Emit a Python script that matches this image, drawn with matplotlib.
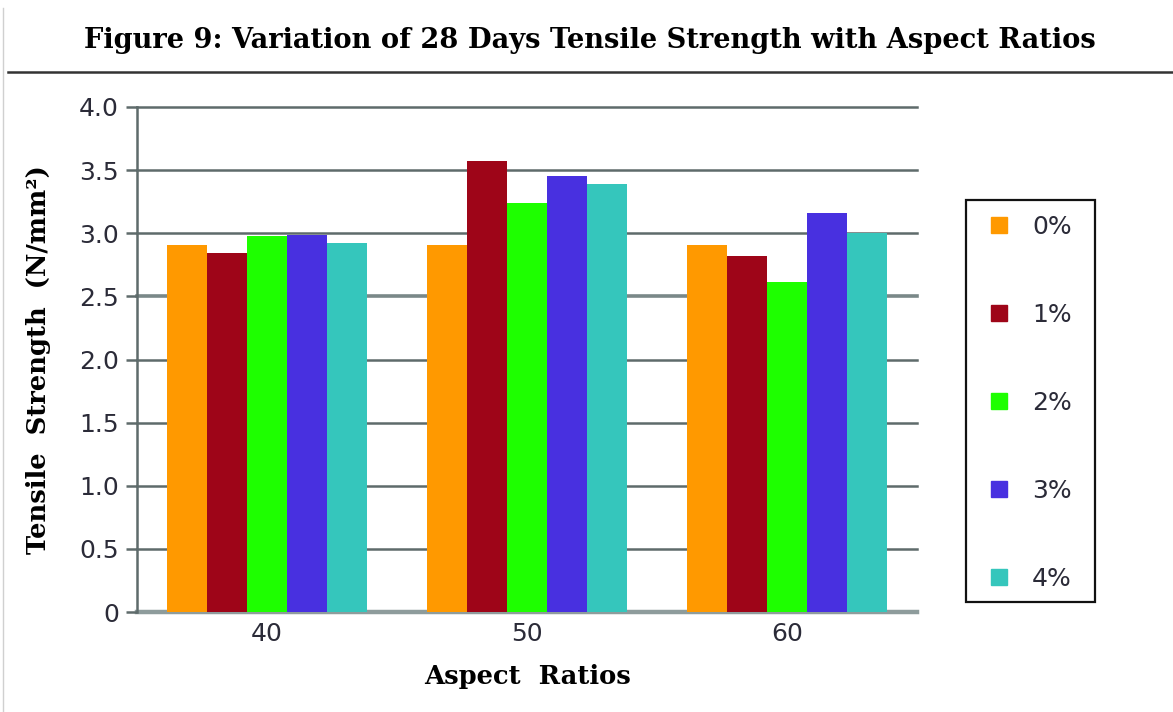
import matplotlib
matplotlib.use("Agg")
import matplotlib.pyplot as plt
import numpy as np
from matplotlib.lines import Line2D
from matplotlib.patches import Rectangle

# Data
aspect_ratios = ["40", "50", "60"]
fibre_labels = ["0%", "1%", "2%", "3%", "4%"]
strength_0 = [2.91, 2.91, 2.91]
strength_1 = [2.84, 3.57, 2.82]
strength_2 = [2.98, 3.24, 2.61]
strength_3 = [2.99, 3.45, 3.16]
strength_4 = [2.92, 3.39, 3.00]
series = [strength_0, strength_1, strength_2, strength_3, strength_4]
colors = ["#FF9900", "#9E0518", "#1EFF00", "#4830E0", "#35C6BC"]
y_ticks = [0, 0.5, 1.0, 1.5, 2.0, 2.5, 3.0, 3.5, 4.0]
y_tick_labels = ["0", "0.5", "1.0", "1.5", "2.0", "2.5", "3.0", "3.5", "4.0"]

W, H = 1173, 712
fig = plt.figure(figsize=(W / 100, H / 100), dpi=100)
ax = fig.add_axes([137 / W, 1 - 612 / H, 780 / W, 505 / H])

grid_col = "#5E6B6B"
x = np.arange(len(aspect_ratios))
bw = 40 / 260
for i, (vals, c) in enumerate(zip(series, colors)):
    ax.bar(x + (i - 2) * bw, vals, width=bw, color=c, label=fibre_labels[i],
           zorder=3, linewidth=0)

ax.set_xlim(-0.5, 2.5)
ax.set_ylim(0, 4.0)
ax.set_yticks(y_ticks)
ax.set_yticklabels(y_tick_labels)
ax.set_xticks(x)
ax.set_xticklabels(aspect_ratios)

for yv in y_ticks:
    if yv == 0:
        lw, col = 3.2, "#8E9C9C"
    elif yv == 2.5:
        lw, col = 2.6, "#7A8888"
    else:
        lw, col = 1.8, grid_col
    ax.axhline(yv, color=col, lw=lw, zorder=1, clip_on=False)

for s in ["top", "right", "bottom"]:
    ax.spines[s].set_visible(False)
ax.spines["left"].set_color(grid_col)
ax.spines["left"].set_linewidth(1.8)

tick_col = "#2B2B38"
ax.tick_params(axis="y", length=8, width=1.8, color=grid_col,
               labelsize=18, labelcolor=tick_col, pad=5)
ax.tick_params(axis="x", length=0, labelsize=18, labelcolor=tick_col, pad=7)

ax.set_xlabel("Aspect  Ratios", family="DejaVu Serif", fontweight="bold",
              fontsize=18.5, labelpad=13)
ax.set_ylabel("Tensile  Strength  (N/mm²)", family="DejaVu Serif",
              fontweight="bold", fontsize=18.5, labelpad=20)

# Legend box and entries
fig.add_artist(Rectangle((966 / W, 1 - 602 / H), 129 / W, 402 / H,
                         transform=fig.transFigure, fill=False,
                         edgecolor="#111111", lw=1.6))
handles = [Line2D([0], [0], marker="s", linestyle="none", markersize=11.5,
                  markerfacecolor=c, markeredgecolor=c) for c in colors]
leg = fig.legend(handles, fibre_labels, loc="upper left",
                 bbox_to_anchor=(986 / W, 1 - 215 / H),
                 frameon=False, fontsize=18, labelspacing=2.56, borderpad=0,
                 handlelength=1.0, handletextpad=0.84, borderaxespad=0,
                 labelcolor=tick_col)

fig.text(590 / W, 1 - 40 / H,
         "Figure 9: Variation of 28 Days Tensile Strength with Aspect Ratios",
         ha="center", va="center", family="DejaVu Serif", fontweight="bold",
         fontsize=19.6)
fig.add_artist(Line2D([8 / W, 1.0], [1 - 72 / H, 1 - 72 / H],
                      color="#333333", lw=1.8, transform=fig.transFigure))
fig.add_artist(Line2D([3 / W, 3 / W], [0, 1 - 8 / H],
                      color="#D0D0D0", lw=1.0, transform=fig.transFigure))

fig.savefig("out.png", dpi=100)
